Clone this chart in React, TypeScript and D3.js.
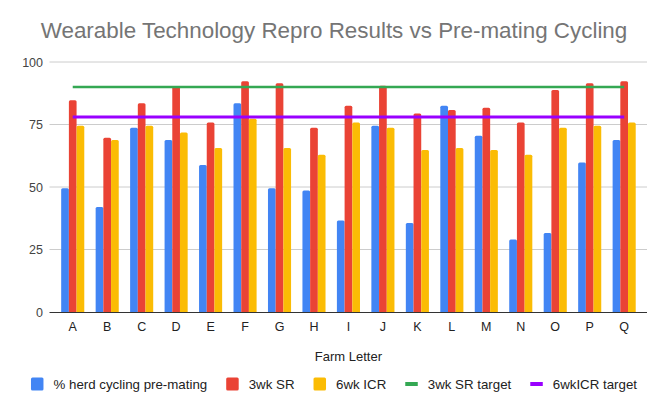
import * as d3 from "d3";
import { useEffect, useRef } from "react";

const farms = ["A", "B", "C", "D", "E", "F", "G", "H", "I", "J", "K", "L", "M", "N", "O", "P", "Q"];
const cycling = [49.5, 42, 73.7, 68.8, 58.8, 83.5, 49.5, 48.6, 36.6, 74.5, 35.6, 82.5, 70.5, 29, 31.6, 59.8, 68.8];
const sr3wk = [84.7, 69.7, 83.5, 90, 75.8, 92.3, 91.5, 73.7, 82.5, 90.5, 79.4, 80.8, 81.7, 75.8, 88.8, 91.5, 92.3];
const icr6wk = [74.5, 68.8, 74.5, 71.8, 65.6, 77.3, 65.6, 62.9, 75.8, 73.7, 64.8, 65.6, 64.8, 62.9, 73.7, 74.5, 75.8];
const srTarget = 90;
const icrTarget = 78;
const yTicks = [0, 25, 50, 75, 100];

const barSeries = [
  { name: "% herd cycling pre-mating", values: cycling, color: "#4285F4" },
  { name: "3wk SR", values: sr3wk, color: "#EA4335" },
  { name: "6wk ICR", values: icr6wk, color: "#FBBC04" },
];
const lineSeries = [
  { name: "3wk SR target", value: srTarget, color: "#34A853", width: 2.5 },
  { name: "6wkICR target", value: icrTarget, color: "#9900FF", width: 3 },
];

const W = 668;
const H = 413;
const FONT = "'Liberation Sans', Arial, sans-serif";

export default function App() {
  const ref = useRef<SVGSVGElement>(null);

  useEffect(() => {
    if (!ref.current) return;
    const svg = d3.select(ref.current);
    svg.selectAll("*").remove();

    const margin = { top: 62, right: 26.6, bottom: 101, left: 55.5 };
    const plotRight = W - margin.right;
    const plotBottom = H - margin.bottom;
    const gridLeft = 49.5;
    const gridRight = W - 21;

    const x = d3.scaleBand<string>().domain(farms).range([margin.left, plotRight]).paddingInner(0).paddingOuter(0);
    const inner = d3
      .scaleBand<number>()
      .domain(barSeries.map((_, i) => i))
      .range([0, x.bandwidth() * 0.67])
      .padding(0);
    const groupOffset = (x.bandwidth() - x.bandwidth() * 0.67) / 2;

    const y = d3.scaleLinear().domain([0, 100]).range([plotBottom, margin.top]);

    svg.append("rect").attr("width", W).attr("height", H).attr("fill", "#fff");

    svg
      .append("text")
      .attr("x", W / 2)
      .attr("y", 38)
      .attr("text-anchor", "middle")
      .style("font-family", FONT)
      .style("font-size", "22.4px")
      .style("fill", "#757575")
      .text("Wearable Technology Repro Results vs Pre-mating Cycling");

    // gridlines + y labels
    svg
      .append("g")
      .selectAll("line")
      .data(yTicks.filter((t) => t > 0))
      .join("line")
      .attr("x1", gridLeft)
      .attr("x2", gridRight)
      .attr("y1", (d) => y(d))
      .attr("y2", (d) => y(d))
      .attr("stroke", "#cccccc")
      .attr("stroke-width", 1);

    svg
      .append("g")
      .selectAll("text")
      .data(yTicks)
      .join("text")
      .attr("x", 43)
      .attr("y", (d) => y(d) + 4.5)
      .attr("text-anchor", "end")
      .style("font-family", FONT)
      .style("font-size", "12.5px")
      .style("fill", "#444")
      .text((d) => d);

    // bars
    barSeries.forEach((s, si) => {
      svg
        .append("g")
        .selectAll("path")
        .data(s.values)
        .join("path")
        .attr("d", (v, i) => {
          const x0 = (x(farms[i]) ?? 0) + groupOffset + (inner(si) ?? 0);
          const w = inner.bandwidth();
          const y0 = y(v);
          const r = 1.5;
          return `M${x0},${plotBottom}V${y0 + r}Q${x0},${y0} ${x0 + r},${y0}H${x0 + w - r}Q${x0 + w},${y0} ${x0 + w},${y0 + r}V${plotBottom}Z`;
        })
        .attr("fill", s.color);
    });

    // target lines
    lineSeries.forEach((l) => {
      const line = d3
        .line<string>()
        .x((d) => (x(d) ?? 0) + x.bandwidth() / 2)
        .y(() => y(l.value));
      svg
        .append("path")
        .attr("d", line(farms) ?? "")
        .attr("fill", "none")
        .attr("stroke", l.color)
        .attr("stroke-width", l.width);
    });

    // x axis
    svg
      .append("line")
      .attr("x1", gridLeft)
      .attr("x2", gridRight)
      .attr("y1", plotBottom + 0.5)
      .attr("y2", plotBottom + 0.5)
      .attr("stroke", "#333")
      .attr("stroke-width", 1);

    svg
      .append("g")
      .selectAll("text")
      .data(farms)
      .join("text")
      .attr("x", (d) => (x(d) ?? 0) + x.bandwidth() / 2)
      .attr("y", plotBottom + 18.5)
      .attr("text-anchor", "middle")
      .style("font-family", FONT)
      .style("font-size", "12.5px")
      .style("fill", "#222")
      .text((d) => d);

    svg
      .append("text")
      .attr("x", (margin.left + plotRight) / 2)
      .attr("y", 361)
      .attr("text-anchor", "middle")
      .style("font-family", FONT)
      .style("font-size", "13px")
      .style("fill", "#222")
      .text("Farm Letter");

    // legend
    const items = [
      ...barSeries.map((s) => ({ name: s.name, color: s.color, kind: "box" })),
      ...lineSeries.map((s) => ({ name: s.name, color: s.color, kind: "line" })),
    ];
    const lg = svg.append("g");
    const widths: number[] = [];
    const groups = items.map((it) => {
      const g = lg.append("g");
      if (it.kind === "box") {
        g.append("rect").attr("x", 0).attr("y", -6.5).attr("width", 12.5).attr("height", 13).attr("rx", 1.5).attr("fill", it.color);
      } else {
        g.append("rect").attr("x", 0).attr("y", -2).attr("width", 12.5).attr("height", 4).attr("fill", it.color);
      }
      const t = g
        .append("text")
        .attr("x", 22.5)
        .attr("y", 4.8)
        .style("font-family", FONT)
        .style("font-size", "13.3px")
        .style("fill", "#222")
        .text(it.name);
      const tw = (t.node() as SVGTextElement).getComputedTextLength();
      widths.push(22.5 + tw);
      return g;
    });
    const gap = 19;
    const total = d3.sum(widths) + gap * (items.length - 1);
    let cx = W / 2 - total / 2;
    groups.forEach((g, i) => {
      g.attr("transform", `translate(${cx},${384})`);
      cx += widths[i] + gap;
    });
  }, []);

  return <svg ref={ref} width={W} height={H} style={{ position: "absolute", left: 0, top: 0 }} />;
}
